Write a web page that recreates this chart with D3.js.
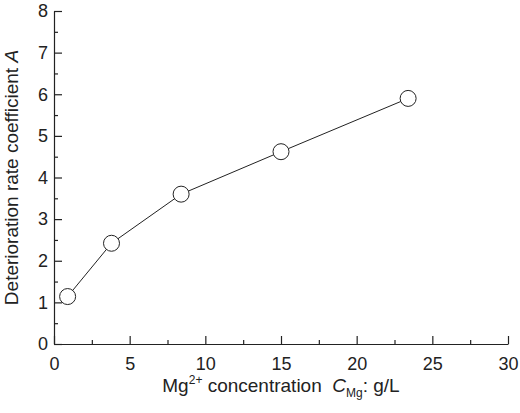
<!DOCTYPE html>
<html><head><meta charset="utf-8">
<script src="https://cdn.jsdelivr.net/npm/d3@7"></script>
<style>body{margin:0;background:#fff}text{font-family:"Liberation Sans",Arial,sans-serif;fill:#222}</style>
</head><body><svg id="c" width="520" height="413"></svg>
<script>
const concentration = [0.9, 3.8, 8.4, 15.0, 23.4];
const coefficient = [1.14, 2.42, 3.6, 4.62, 5.9];
const xTicks = [0, 5, 10, 15, 20, 25, 30];
const yTicks = [0, 1, 2, 3, 4, 5, 6, 7, 8];

const svg = d3.select("#c");
const m = { left: 54, right: 12, top: 11, bottom: 69 };
const W = 520, H = 413;
const x = d3.scaleLinear().domain([0, 30]).range([m.left, W - m.right]);
const y = d3.scaleLinear().domain([0, 8]).range([H - m.bottom, m.top]);

// axes with inward ticks
svg.append("g").attr("transform", `translate(0,${y(0)})`)
    .call(d3.axisBottom(x).tickValues(xTicks).tickSizeInner(-8).tickSizeOuter(0).tickPadding(13));
const gxm = svg.append("g").attr("transform", `translate(0,${y(0)})`)
    .call(d3.axisBottom(x).tickValues(d3.range(2.5, 30, 5)).tickSizeInner(-4).tickSizeOuter(0).tickFormat(""));
gxm.select(".domain").remove();

svg.append("g").attr("transform", `translate(${x(0)},0)`)
    .call(d3.axisLeft(y).tickValues(yTicks).tickSizeInner(-8).tickSizeOuter(0).tickPadding(6));
const gym = svg.append("g").attr("transform", `translate(${x(0)},0)`)
    .call(d3.axisLeft(y).tickValues(d3.range(0.5, 8, 1)).tickSizeInner(-4).tickSizeOuter(0).tickFormat(""));
gym.select(".domain").remove();

svg.selectAll(".tick text").style("font-size", "18px").attr("fill", "#222");
svg.selectAll(".domain, .tick line").attr("stroke", "#222").attr("stroke-width", 1.2);

// line and markers
const pts = concentration.map((c, i) => [c, coefficient[i]]);
svg.append("path").datum(pts)
    .attr("d", d3.line().x(d => x(d[0])).y(d => y(d[1])))
    .attr("fill", "none").attr("stroke", "#222").attr("stroke-width", 1);
svg.selectAll("circle.pt").data(pts).join("circle")
    .attr("class", "pt").attr("cx", d => x(d[0])).attr("cy", d => y(d[1])).attr("r", 8)
    .attr("fill", "#fff").attr("stroke", "#222").attr("stroke-width", 1);

// axis titles
const xt = svg.append("text").attr("x", 281).attr("y", 392).attr("text-anchor", "middle").style("font-size", "19px");
xt.append("tspan").text("Mg");
xt.append("tspan").text("2+").attr("dy", -8).style("font-size", "12px");
xt.append("tspan").text(" concentration\u00a0\u00a0").attr("dy", 8);
xt.append("tspan").text("C").style("font-style", "italic");
xt.append("tspan").text("Mg").attr("dy", 5).style("font-size", "12px");
xt.append("tspan").text(": g/L").attr("dy", -5);

const yt = svg.append("text").attr("transform", `translate(18,${(m.top + H - m.bottom) / 2}) rotate(-90)`)
    .attr("text-anchor", "middle").style("font-size", "19px");
yt.append("tspan").text("Deterioration rate coefficient ");
yt.append("tspan").text("A").style("font-style", "italic");
</script></body></html>
